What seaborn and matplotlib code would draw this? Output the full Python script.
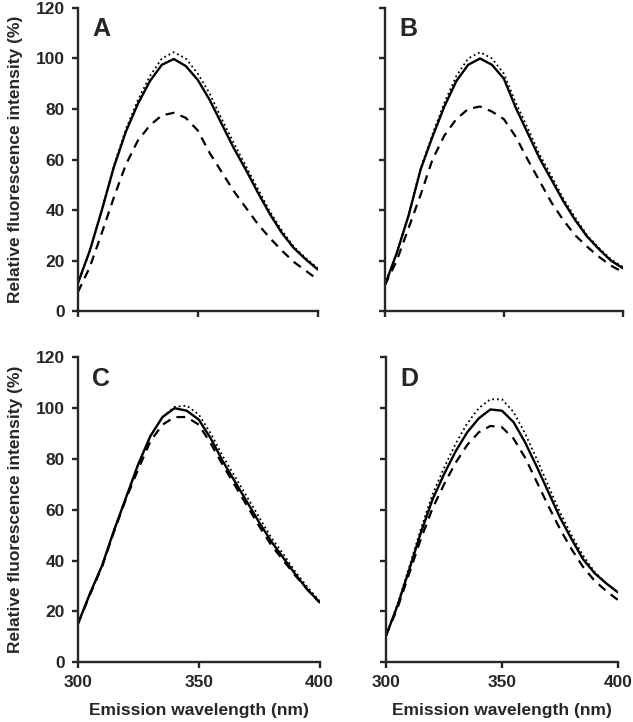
import numpy as np
import pandas as pd
import matplotlib
matplotlib.use("Agg")
import matplotlib.pyplot as plt
import seaborn as sns

# emission wavelength grid (nm)
wavelength = [300, 305, 310, 315, 320, 325, 330, 335, 340, 345, 350,
              355, 360, 365, 370, 375, 380, 385, 390, 395, 400]

# panel A
a_solid = [11, 24, 40, 57, 71, 82, 91, 97.5, 99.8, 97, 91.5,
           83.5, 74, 64.5, 56, 47, 38.5, 31, 25, 20.5, 16.5]
a_dotted = [11, 24, 40, 57.5, 72, 83.5, 93, 100, 102.5, 100, 94,
            86, 76, 66.5, 57.5, 48.5, 39.5, 32, 25.5, 21, 17]
a_dashed = [7.5, 17.5, 31, 45, 58, 67.5, 73.5, 77.5, 78.5, 76.5, 71.5,
            62.5, 55, 47.5, 41, 34.5, 29, 24, 19.5, 16, 12.5]

# panel B
b_solid = [10.3, 23, 38, 56, 69, 81, 91, 97.5, 100, 97.5, 92,
           80.5, 70.5, 60.5, 52, 43.5, 36, 29.5, 24.5, 20, 17]
b_dotted = [10.3, 23, 38, 56.5, 70, 82.5, 93, 100, 102.5, 100, 94,
            82.5, 72.5, 62, 53.5, 44.5, 37, 30, 25, 20.5, 17.5]
b_dashed = [10.3, 20, 33, 46, 60, 69.5, 76, 80, 81, 79, 76,
            69, 60, 51.5, 43, 36, 30, 25.5, 21.5, 18, 15.5]

# panel C
c_solid = [15, 27, 38, 52, 65, 78, 89, 96.5, 100, 99, 95.5,
           88, 79, 71, 63, 55, 47.5, 41, 34.5, 28.5, 23.5]
c_dotted = [15, 27, 38, 52, 65, 78, 89, 96.5, 100.5, 101, 97.5,
            90, 81, 73, 65, 57, 49, 42.5, 35.5, 29.5, 24]
c_dashed = [15, 26.5, 37.5, 51.5, 64.5, 76, 87, 93.5, 96.5, 96.5, 93.5,
            86, 77.5, 69.5, 61.5, 53.5, 46, 40, 34, 28.5, 23.5]

# panel D
d_solid = [10.5, 22.5, 36.5, 51, 64, 74, 83, 90.5, 96, 99.5, 99,
           94.5, 86.5, 77, 67, 57, 48.5, 40.5, 35, 31, 27.5]
d_dotted = [10.5, 23, 37.5, 52.5, 66, 76.5, 86, 94, 100, 103.5, 103.5,
            98.5, 90, 80, 69.5, 59, 50, 42, 35.5, 31, 27.5]
d_dashed = [10.5, 21.5, 35, 48.5, 60.5, 70, 78.5, 85.5, 90.5, 93, 92.5,
            88, 80.5, 71, 61.5, 52.5, 44.5, 37.5, 32, 28, 24.5]

panel_letters = ["A", "B", "C", "D"]
panel_data = [
    (a_solid, a_dotted, a_dashed),
    (b_solid, b_dotted, b_dashed),
    (c_solid, c_dotted, c_dashed),
    (d_solid, d_dotted, d_dashed),
]

sns.set_style("ticks")
plt.rcParams['font.family'] = ['Liberation Sans', 'DejaVu Sans']

fig = plt.figure(figsize=(6.33, 7.22), dpi=100)

# axes boxes [left, bottom, width, height] in figure fraction
boxes = [
    [0.123, 0.569, 0.379, 0.420],
    [0.608, 0.569, 0.376, 0.420],
    [0.123, 0.083, 0.382, 0.422],
    [0.610, 0.083, 0.366, 0.422],
]

fs = 12.5

for i, (letter, (solid, dotted, dashed), box) in enumerate(zip(panel_letters, panel_data, boxes)):
    ax = fig.add_axes(box)
    df = pd.DataFrame({'wl': wavelength, 'solid': solid, 'dotted': dotted, 'dashed': dashed})

    sns.lineplot(data=df, x='wl', y='dotted', ax=ax, color='black', linestyle=':',
                 linewidth=1.3, solid_joinstyle='round')
    sns.lineplot(data=df, x='wl', y='dashed', ax=ax, color='black', linestyle=(0, (4, 3)),
                 linewidth=1.6, solid_joinstyle='round')
    sns.lineplot(data=df, x='wl', y='solid', ax=ax, color='black', linestyle='-',
                 linewidth=1.7, solid_joinstyle='round')

    ax.set_xlim(300, 400)
    ax.set_ylim(0, 120)
    ax.set_xticks([300, 350, 400])
    ax.set_yticks(range(0, 121, 20))
    sns.despine(ax=ax)
    for s in ['left', 'bottom']:
        ax.spines[s].set_linewidth(1.7)
    ax.tick_params(direction='out', length=4.5, width=1.7, pad=5,
                   labelsize=fs)
    for lab in ax.get_xticklabels() + ax.get_yticklabels():
        lab.set_fontweight('bold')

    if i < 2:
        ax.set_xticklabels([])
        ax.set_xlabel('')
    else:
        ax.set_xlabel('Emission wavelength (nm)', fontsize=fs, fontweight='bold', labelpad=9)
    if i % 2 == 1:
        ax.set_yticklabels([])
        ax.set_ylabel('')
    else:
        ax.set_ylabel('Relative fluorescence intensity (%)', fontsize=fs, fontweight='bold', labelpad=9)

    ax.text(0.06, 0.97, letter, transform=ax.transAxes, fontsize=18,
            fontweight='bold', va='top', ha='left')

fig.savefig('out.png', dpi=100)
